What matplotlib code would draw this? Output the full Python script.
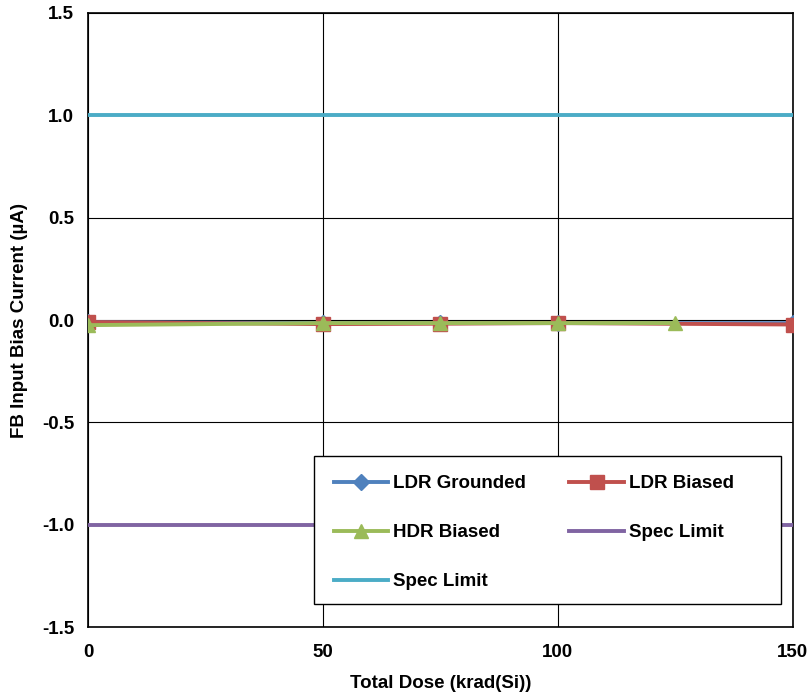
import matplotlib.pyplot as plt
from matplotlib.patches import Rectangle
from matplotlib.ticker import FormatStrFormatter

plt.rcParams['font.family'] = ['Liberation Sans', 'DejaVu Sans']
plt.rcParams['font.weight'] = 'bold'

# Data
dose_ldr_gnd = [0, 50, 75, 100, 150]
ibias_ldr_gnd = [-0.01, -0.015, -0.015, -0.015, -0.015]

dose_ldr_bias = [0, 50, 75, 100, 150]
ibias_ldr_bias = [-0.01, -0.02, -0.018, -0.015, -0.022]

dose_hdr_bias = [0, 50, 75, 100, 125]
ibias_hdr_bias = [-0.025, -0.015, -0.015, -0.015, -0.015]

spec_x = [0, 150]
spec_low = [-1.0, -1.0]
spec_high = [1.0, 1.0]

fig = plt.figure(figsize=(8.11, 6.95), dpi=100)
ax = fig.add_axes([0.1085, 0.0978, 0.869, 0.8835])

h_gnd, = ax.plot(dose_ldr_gnd, ibias_ldr_gnd, color='#4F81BD', lw=2.8,
                 marker='D', markersize=8, label='LDR Grounded', zorder=3)
h_bias, = ax.plot(dose_ldr_bias, ibias_ldr_bias, color='#C0504D', lw=2.8,
                  marker='s', markersize=9.5, label='LDR Biased', zorder=4)
h_hdr, = ax.plot(dose_hdr_bias, ibias_hdr_bias, color='#9BBB59', lw=2.8,
                 marker='^', markersize=10, label='HDR Biased', zorder=5)
h_low, = ax.plot(spec_x, spec_low, color='#8064A2', lw=2.8, label='Spec Limit', zorder=3)
h_high, = ax.plot(spec_x, spec_high, color='#4BACC6', lw=2.8, label='Spec Limit', zorder=3)

ax.set_xlim(0, 150)
ax.set_ylim(-1.5, 1.5)
ax.set_xticks([0, 50, 100, 150])
ax.set_yticks([-1.5, -1.0, -0.5, 0.0, 0.5, 1.0, 1.5])
ax.yaxis.set_major_formatter(FormatStrFormatter('%.1f'))
ax.grid(True, color='black', lw=0.8)
ax.set_axisbelow(True)
ax.tick_params(length=0, labelsize=13.5)
ax.tick_params(axis='x', pad=12)
ax.tick_params(axis='y', pad=10)
for sp in ax.spines.values():
    sp.set_linewidth(1.2)
    sp.set_color('black')

ax.set_xlabel('Total Dose (krad(Si))', fontsize=13.5, fontweight='bold', labelpad=10)
ax.set_ylabel('FB Input Bias Current (µA)', fontsize=13.5, fontweight='bold', labelpad=10)

# legend box drawn separately so it can be wider than its contents
ax.add_patch(Rectangle((0.3206, 0.0375), 0.6634, 0.241, transform=ax.transAxes,
                       facecolor='white', edgecolor='black', lw=1.0, zorder=6))
leg = ax.legend(handles=[h_gnd, h_hdr, h_high, h_bias, h_low], ncol=2,
                loc='upper left', bbox_to_anchor=(0.349, 0.247),
                fontsize=13.5, frameon=False, borderpad=0, borderaxespad=0,
                labelspacing=1.69, handlelength=2.9, handletextpad=0.27,
                columnspacing=2.3)
leg.set_zorder(7)

fig.savefig('out.png', dpi=100)
